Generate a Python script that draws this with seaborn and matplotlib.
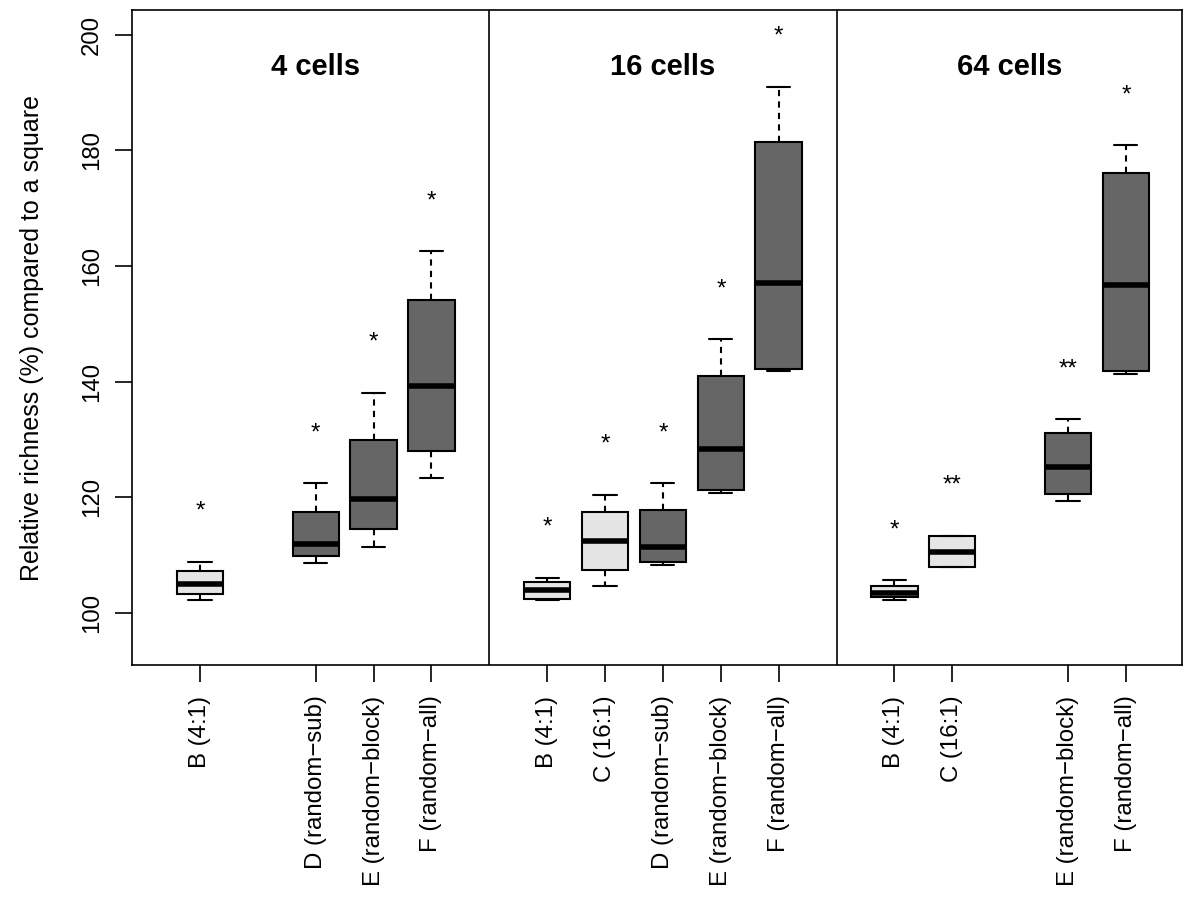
import numpy as np
import pandas as pd
import matplotlib
matplotlib.use("Agg")
import matplotlib.pyplot as plt
import seaborn as sns

# ---- data (five-number summaries) ----
positions = [1, 3, 4, 5, 7, 8, 9, 10, 11, 13, 14, 16, 17]
labels = ["B (4:1)", "D (random\u2212sub)", "E (random\u2212block)", "F (random\u2212all)",
          "B (4:1)", "C (16:1)", "D (random\u2212sub)", "E (random\u2212block)", "F (random\u2212all)",
          "B (4:1)", "C (16:1)", "E (random\u2212block)", "F (random\u2212all)"]
lower   = [102.25, 108.6, 111.5, 123.4, 102.2, 104.6, 108.3, 120.8, 141.8, 102.2, 107.9, 119.3, 141.4]
q1      = [103.2, 109.9, 114.6, 128.1, 102.5, 107.4, 108.9, 121.3, 142.2, 102.8, 107.9, 120.5, 141.8]
median  = [105.0, 111.9, 119.7, 139.2, 103.9, 112.5, 111.5, 128.3, 157.1, 103.4, 110.6, 125.3, 156.7]
q3      = [107.3, 117.5, 129.9, 154.2, 105.4, 117.5, 117.8, 141.0, 181.4, 104.6, 113.3, 131.2, 176.1]
upper   = [108.9, 122.5, 138.1, 162.7, 106.0, 120.4, 122.4, 147.4, 190.9, 105.7, 113.3, 133.5, 180.9]
kind    = ["light", "dark", "dark", "dark", "light", "light", "dark", "dark", "dark",
           "light", "light", "dark", "dark"]
star_y  = [119.0, 132.5, 148.1, 172.5, 116.1, 130.5, 132.5, 157.3, 201.0, 115.7, 123.4, 143.5, 190.8]
star_txt = ["*", "*", "*", "*", "*", "*", "*", "*", "*", "*", "**", "**", "*"]
panel_titles = ["4 cells", "16 cells", "64 cells"]
panel_centers = [3, 9, 15]
separators = [6, 12]
y_ticks = [100, 120, 140, 160, 180, 200]

colors = {"light": "#E5E5E5", "dark": "#666666"}

# long-format frame: 5 values per box reproduce the five-number summary exactly
rows = []
for p, lo, a, m, b, hi, k in zip(positions, lower, q1, median, q3, upper, kind):
    for v in (lo, a, m, b, hi):
        rows.append({"pos": p, "value": v, "kind": k})
df = pd.DataFrame(rows)

sns.set_style("white")
plt.rcParams["font.family"] = ["Liberation Sans", "DejaVu Sans"]
plt.rcParams["text.color"] = "black"
plt.rcParams["axes.labelcolor"] = "black"
plt.rcParams["xtick.color"] = "black"
plt.rcParams["ytick.color"] = "black"

fig = plt.figure(figsize=(11.92, 9.01), dpi=100)
ax = fig.add_axes([0.1107, 0.2619, 0.8809, 0.727])

sns.boxplot(data=df, x="pos", y="value", hue="kind", palette=colors,
            native_scale=True, dodge=False, width=0.8, whis=(0, 100),
            saturation=1, linecolor="black", linewidth=1.5, legend=False,
            medianprops={"color": "black", "linewidth": 4},
            whiskerprops={"linestyle": (0, (3, 2.5))},
            showfliers=False, ax=ax)

fs = 17.3
for p, y, t in zip(positions, star_y, star_txt):
    ax.annotate(t, xy=(p, y), xytext=(0, -0.58 * fs), textcoords="offset points",
                ha="center", va="baseline", fontsize=fs, color="black")

for c, t in zip(panel_centers, panel_titles):
    ax.text(c, 193.1, t, ha="center", va="baseline", fontsize=21,
            fontweight="bold", color="black")

for s in separators:
    ax.axvline(s, color="black", linewidth=1.2)

ax.set_xlim(-0.175, 17.97)
ax.set_ylim(91.0, 204.3)
ax.set_xticks(positions)
ax.set_xticklabels(labels, rotation=90, fontsize=fs, color="black")
ax.set_yticks(y_ticks)
ax.set_yticklabels([str(v) for v in y_ticks], rotation=90, va="center",
                   fontsize=fs, color="black")
ax.tick_params(axis="both", direction="out", length=12, width=1.2, color="black",
               labelcolor="black", bottom=True, left=True)
ax.tick_params(axis="x", pad=10)
ax.tick_params(axis="y", pad=9)
ax.set_xlabel("")
ax.set_ylabel("Relative richness (%) compared to a square", fontsize=18, color="black")
ax.yaxis.set_label_coords(-0.084, 0.5)
for sp in ax.spines.values():
    sp.set_visible(True)
    sp.set_color("black")
    sp.set_linewidth(1.2)

fig.savefig("out.png", dpi=100)
